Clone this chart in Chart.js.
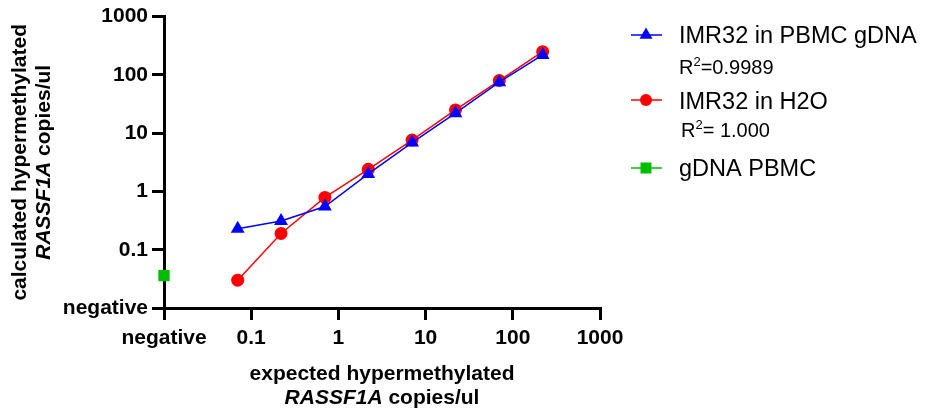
<!DOCTYPE html>
<html>
<head>
<meta charset="utf-8">
<script src="https://cdn.jsdelivr.net/npm/chart.js@4"></script>
<style>
  html, body { margin: 0; padding: 0; background: #fff; }
  #wrap { width: 926px; height: 409px; position: relative; }
</style>
</head>
<body>
<div id="wrap"><canvas id="chart" width="926" height="409"></canvas></div>
<script>
const expectedCopies = [0.07, 0.22, 0.7, 2.2, 7, 22, 70, 220];
const inPbmcGdna = [0.23, 0.31, 0.55, 2.0, 6.9, 22, 75, 220];
const inH2o = [0.030, 0.19, 0.79, 2.4, 7.6, 25, 80, 250];
const gdnaPbmcX = [0.01];
const gdnaPbmcY = [0.036];

const tickValues = [0.01, 0.1, 1, 10, 100, 1000];
const xTickLabels = ["negative", "0.1", "1", "10", "100", "1000"];
const yTickLabels = ["negative", "0.1", "1", "10", "100", "1000"];

const FONT = 'Arial, "Liberation Sans", sans-serif';
Chart.defaults.font.family = FONT;
Chart.defaults.color = "#000";

const toPoints = (xs, ys) => xs.map((x, i) => ({ x: x, y: ys[i] }));

// axis titles + legend, drawn on the canvas
const extras = {
  id: "extras",
  afterDraw(chart) {
    const ctx = chart.ctx;
    const area = chart.chartArea;
    const cx = (area.left + area.right) / 2;
    const cy = (area.top + area.bottom) / 2;

    const mixedLine = (parts, x, y) => {
      // parts: [text, italic]
      let w = 0;
      parts.forEach(p => {
        ctx.font = (p[1] ? "italic " : "") + "bold 21px " + FONT;
        w += ctx.measureText(p[0]).width;
      });
      let pos = x - w / 2;
      parts.forEach(p => {
        ctx.font = (p[1] ? "italic " : "") + "bold 21px " + FONT;
        ctx.fillText(p[0], pos, y);
        pos += ctx.measureText(p[0]).width;
      });
    };

    ctx.save();
    ctx.fillStyle = "#000";
    ctx.textAlign = "left";
    ctx.textBaseline = "alphabetic";
    mixedLine([["expected hypermethylated", false]], cx, 380);
    mixedLine([["RASSF1A", true], [" copies/ul", false]], cx, 404);

    ctx.save();
    ctx.translate(0, cy);
    ctx.rotate(-Math.PI / 2);
    mixedLine([["calculated hypermethylated", false]], 0, 26);
    mixedLine([["RASSF1A", true], [" copies/ul", false]], 0, 50);
    ctx.restore();

    const marker = (style, x, y, color) => {
      ctx.fillStyle = color;
      ctx.beginPath();
      if (style === "triangle") {
        const r = 7.5;
        ctx.moveTo(x, y - r);
        ctx.lineTo(x + r * 0.866, y + r * 0.5);
        ctx.lineTo(x - r * 0.866, y + r * 0.5);
        ctx.closePath();
      } else if (style === "circle") {
        ctx.arc(x, y, 6, 0, Math.PI * 2);
      } else {
        ctx.rect(x - 5.5, y - 5.5, 11, 11);
      }
      ctx.fill();
    };

    const entry = (style, color, lineY, text, textY) => {
      ctx.strokeStyle = color;
      ctx.lineWidth = 1.5;
      ctx.beginPath();
      ctx.moveTo(631, lineY);
      ctx.lineTo(662, lineY);
      ctx.stroke();
      marker(style, 646, lineY, color);
      ctx.fillStyle = "#000";
      ctx.font = "23.5px " + FONT;
      ctx.fillText(text, 679, textY);
    };

    const rSquared = (value, x, y) => {
      ctx.fillStyle = "#000";
      ctx.font = "20px " + FONT;
      ctx.fillText("R", x, y);
      let pos = x + ctx.measureText("R").width;
      ctx.font = "13px " + FONT;
      ctx.fillText("2", pos, y - 8);
      pos += ctx.measureText("2").width;
      ctx.font = "20px " + FONT;
      ctx.fillText(value, pos, y);
    };

    entry("triangle", "#0000ff", 35, "IMR32 in PBMC gDNA", 43);
    rSquared("=0.9989", 679, 74);
    entry("circle", "#ff0000", 100, "IMR32 in H2O", 109);
    rSquared("= 1.000", 681, 137);
    entry("rect", "#00bf00", 168, "gDNA PBMC", 176);
    ctx.restore();
  }
};

const axisCommon = {
  type: "logarithmic",
  min: 0.01,
  max: 1000,
  grid: {
    display: true,
    drawOnChartArea: false,
    drawTicks: true,
    tickLength: 12,
    tickWidth: 3,
    tickColor: "#000",
    color: "#000",
    lineWidth: 3
  },
  border: { display: true, color: "#000", width: 3 },
  afterBuildTicks: (scale) => {
    scale.ticks = tickValues.map(v => ({ value: v }));
  }
};

new Chart(document.getElementById("chart"), {
  type: "scatter",
  data: {
    datasets: [
      {
        label: "IMR32 in PBMC gDNA",
        data: toPoints(expectedCopies, inPbmcGdna),
        showLine: true,
        borderColor: "#0000ff",
        backgroundColor: "#0000ff",
        borderWidth: 1.5,
        pointStyle: "triangle",
        pointRadius: 8,
        pointBorderWidth: 0,
        clip: false
      },
      {
        label: "IMR32 in H2O",
        data: toPoints(expectedCopies, inH2o),
        showLine: true,
        borderColor: "#ff0000",
        backgroundColor: "#ff0000",
        borderWidth: 1.5,
        pointStyle: "circle",
        pointRadius: 6.5,
        pointBorderWidth: 0,
        clip: false
      },
      {
        label: "gDNA PBMC",
        data: toPoints(gdnaPbmcX, gdnaPbmcY),
        showLine: false,
        borderColor: "#00bf00",
        backgroundColor: "#00bf00",
        pointStyle: "rect",
        pointRadius: 8,
        pointBorderWidth: 0,
        clip: false
      }
    ]
  },
  options: {
    responsive: false,
    animation: false,
    events: [],
    layout: { padding: { left: 0, top: 15, right: 326, bottom: 0 } },
    scales: {
      x: {
        ...axisCommon,
        position: "bottom",
        ticks: {
          autoSkip: false,
          maxRotation: 0,
          padding: 6,
          color: "#000",
          font: { size: 21, weight: "bold" },
          callback: (v, i) => xTickLabels[i]
        },
        afterFit: (scale) => { scale.height = 101; }
      },
      y: {
        ...axisCommon,
        position: "left",
        ticks: {
          autoSkip: false,
          padding: 4,
          color: "#000",
          font: { size: 21, weight: "bold" },
          callback: (v, i) => yTickLabels[i]
        },
        afterFit: (scale) => { scale.width = 164; }
      }
    },
    plugins: {
      legend: { display: false },
      tooltip: { enabled: false }
    }
  },
  plugins: [extras]
});
</script>
</body>
</html>
